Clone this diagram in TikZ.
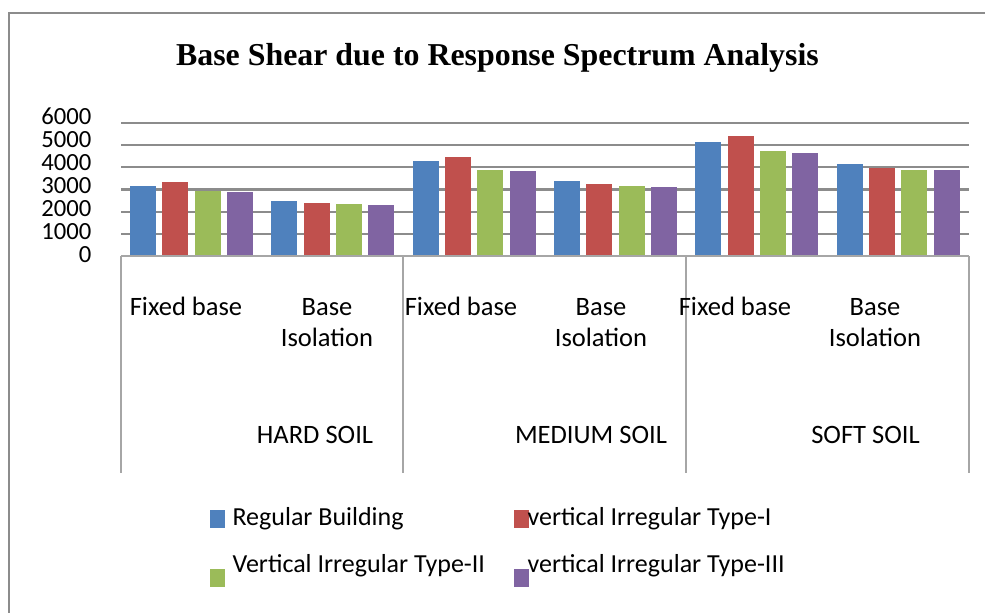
\documentclass[tikz,border=0pt]{standalone}
\usepackage{fontspec}
\setmainfont{Liberation Serif}
\newfontfamily\chartfont{Carlito}
\definecolor{regblue}{HTML}{4F81BD}
\definecolor{irrred}{HTML}{C0504D}
\definecolor{irrgreen}{HTML}{9BBB59}
\definecolor{irrpurple}{HTML}{8064A2}
\definecolor{gridgray}{HTML}{8C8C8C}

\begin{document}
\begin{tikzpicture}[x=0.75pt, y=-0.75pt, thick]
		
		\useasboundingbox (0,0) rectangle (985,613);
		
		% Styles
		\tikzstyle{frame} = [draw=gridgray, line width=1.5pt];
		\tikzstyle{gridline} = [draw=gridgray, line width=1.6pt];
		\tikzstyle{axisline} = [draw=gray!70, line width=1.2pt];
		\tikzstyle{ylabel} = [font=\chartfont\fontsize{18.5}{20}\selectfont, anchor=east, inner sep=0pt, text height=9pt, text depth=0pt];
		\tikzstyle{catlabel} = [font=\chartfont\fontsize{19.9}{23.25}\selectfont, align=center, anchor=base, inner sep=0pt];
		\tikzstyle{legtext} = [font=\chartfont\fontsize{19.5}{22}\selectfont, anchor=base west, inner sep=0pt];
		
		% Frame
		\coordinate (ftop) at (985,13);
		\coordinate (fcorner) at (9,13);
		\coordinate (fbot) at (9,613);
		\draw[frame] (ftop) -- (fcorner) -- (fbot);
		
		% Title
		\node[font=\bfseries\fontsize{23.9}{26}\selectfont, anchor=base] (title) at (497.5,66)
		{Base Shear due to Response Spectrum Analysis};
		
		% Grid and y labels
		\foreach \k in {1,...,6} {
			\draw[gridline] (121,{256-22.17*\k}) -- (969,{256-22.17*\k});
		}
		\foreach \k in {0,...,6} {
			\node[ylabel] (y\k) at (92,{256-22.9*\k}) {\pgfmathparse{int(1000*\k)}\pgfmathresult};
		}
		
		% Bars: subgroup / values (blue, red, green, purple)
		\foreach \s/\va/\vb/\vc/\vd in {0/3150/3350/2950/2890, 1/2495/2390/2345/2300,
			2/4285/4465/3880/3835, 3/3385/3250/3155/3125,
			4/5140/5410/4735/4645, 5/4150/3970/3880/3880} {
			\foreach \i/\v/\c in {0/\va/regblue, 1/\vb/irrred, 2/\vc/irrgreen, 3/\vd/irrpurple} {
				\fill[\c] ({121+141.33*\s+9+32.3*\i},256) rectangle ++(26,{-0.02217*\v});
			}
		}
		
		% Axis
		\draw[axisline] (121,256) -- (969,256);
		\foreach \x in {121,403,686,969} {
			\draw[axisline] (\x,256) -- (\x,473);
		}
		
		% Category labels
		\node[catlabel] (hfix) at (186,315) {Fixed base};
		\node[catlabel] (hiso) at (327,346) {Base\\Isolation};
		\node[catlabel] (mfix) at (461,315) {Fixed base};
		\node[catlabel] (miso) at (601,346) {Base\\Isolation};
		\node[catlabel] (sfix) at (735,315) {Fixed base};
		\node[catlabel] (siso) at (875,346) {Base\\Isolation};
		
		\node[catlabel] (hard) at (315,443) {HARD SOIL};
		\node[catlabel] (medium) at (591,443) {MEDIUM SOIL};
		\node[catlabel] (soft) at (865.5,443) {SOFT SOIL};
		
		% Legend
		\fill[regblue] (210,510) rectangle (225,528);
		\fill[irrred] (514,510) rectangle (529,528);
		\fill[irrgreen] (210,569) rectangle (225,587);
		\fill[irrpurple] (514,569) rectangle (529,587);
		\node[legtext] (lreg) at (232,525) {Regular Building};
		\node[legtext] (lone) at (527,525) {vertical Irregular Type-I};
		\node[legtext] (ltwo) at (232,572) {Vertical Irregular Type-II};
		\node[legtext] (lthree) at (527,572) {vertical Irregular Type-III};
		
	\end{tikzpicture}
\end{document}
